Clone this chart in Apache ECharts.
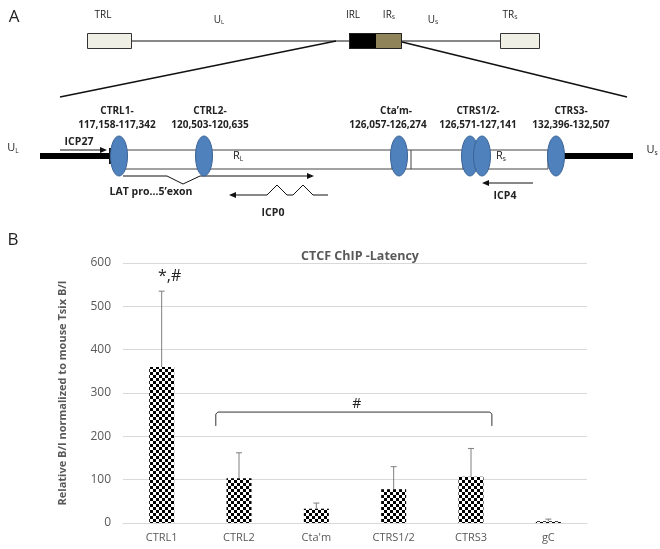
<!DOCTYPE html>
<html><head><meta charset="utf-8">
<script src="https://cdn.jsdelivr.net/npm/echarts@6/dist/echarts.min.js"></script>
<style>html,body{margin:0;padding:0;background:#fff}#c{width:660px;height:549px}</style>
</head><body><div id="c"></div>
<script>
// ---- data ----
const categories = ['CTRL1', 'CTRL2', "Cta'm", 'CTRS1/2', 'CTRS3', 'gC'];
const meanValues = [360, 103, 33, 78, 107, 4];
const errorTops = [535, 162, 46, 130, 172, 9];
const yTicks = [0, 100, 200, 300, 400, 500, 600];
const starLabel = { category: 'CTRL1', value: 568, text: '*,#' };
const bracket = { from: 'CTRL2', to: 'CTRS3', level: 256, drop: 224, text: '#', textValue: 275 };
const siteNames = ['CTRL1-', 'CTRL2-', 'Cta\u2019m-', 'CTRS1/2-', 'CTRS3-'];
const siteRanges = ['117,158-117,342', '120,503-120,635', '126,057-126,274', '126,571-127,141', '132,396-132,507'];

// ---- checker pattern ----
const pc = document.createElement('canvas');
pc.width = 6; pc.height = 6;
const g = pc.getContext('2d');
g.fillStyle = '#ffffff'; g.fillRect(0, 0, 6, 6);
g.fillStyle = '#000000'; g.fillRect(0, 0, 3, 3); g.fillRect(3, 3, 3, 3);

const FONT = '"Open Sans", "Noto Sans", sans-serif';
const GRAY = '#595959';

// ---- schematic (panel A) ----
const els = [];
function txt(x, y, t, size, weight, align) {
  els.push({ type: 'text', x: x, y: y, style: { text: t, fontSize: size, fontWeight: weight || 'normal', fontFamily: FONT, fill: '#222', align: align || 'center', verticalAlign: 'middle' } });
}
function richTxt(x, y, main, sub, size) {
  els.push({ type: 'text', x: x, y: y, style: { text: '{m|' + main + '}{s|' + sub + '}', fontFamily: FONT, fill: '#222', align: 'center', verticalAlign: 'middle',
    rich: { m: { fontSize: size, fontFamily: FONT, fill: '#222' }, s: { fontSize: size * 0.6, fontFamily: FONT, fill: '#222', padding: [size * 0.5, 0, 0, 0] } } } });
}
function line(pts, w, color) {
  els.push({ type: 'polyline', shape: { points: pts }, style: { stroke: color || '#111', lineWidth: w || 1, fill: null } });
}
function rect(x, y, w, h, fill, stroke) {
  els.push({ type: 'rect', shape: { x: x, y: y, width: w, height: h }, style: { fill: fill, stroke: stroke || null, lineWidth: 1 } });
}
function head(x, y, dir) {
  const d = dir > 0 ? 1 : -1;
  els.push({ type: 'polygon', shape: { points: [[x, y], [x - d * 7, y - 3], [x - d * 7, y + 3]] }, style: { fill: '#111' } });
}
function ellipse(cx, cy) {
  els.push({ type: 'ellipse', shape: { cx: cx, cy: cy, rx: 8.5, ry: 20 }, style: { fill: '#4f81bd', stroke: '#3a6496', lineWidth: 1 }, z: 10 });
}
txt(14, 17, 'A', 17, 'normal');
txt(13, 240, 'B', 17, 'normal');
// genome overview
line([[132, 41], [349, 41]], 1);
line([[402, 41], [500, 41]], 1);
rect(87.5, 33.5, 44, 15, '#efefe6', '#333');
rect(500.5, 33.5, 39, 15, '#efefe6', '#333');
rect(349, 33, 27, 16, '#000', null);
rect(376, 33, 26, 16, '#8f8459', null);
els.push({ type: 'rect', shape: { x: 349.5, y: 33.5, width: 52, height: 15 }, style: { fill: null, stroke: '#222', lineWidth: 1 } });
txt(103, 15, 'TRL', 10);
richTxt(219, 20, 'U', 'L', 10);
txt(353, 15, 'IRL', 10);
richTxt(389, 15, 'IR', 'S', 10);
richTxt(433, 20, 'U', 'S', 10);
richTxt(510, 15, 'TR', 'S', 10);
line([[336, 41], [60, 97]], 1.5);
line([[402, 42], [627, 97]], 1.5);
// expanded region
rect(40, 153, 70, 6, '#000', null);
line([[110, 148], [110, 164]], 2);
line([[116, 150], [548, 150]], 1, '#444');
line([[116, 169], [548, 169]], 1, '#444');
line([[392, 150], [392, 169]], 1, '#444');
line([[411, 150], [411, 169]], 1, '#444');
line([[463, 150], [463, 169]], 1, '#444');
line([[548, 150], [548, 169]], 1, '#444');
rect(556, 153, 77, 6, '#000', null);
const siteX = [117, 210, 388, 478, 571];
ellipse(119, 156); ellipse(204, 156); ellipse(399, 156); ellipse(470, 156); ellipse(482, 156); ellipse(556, 156);
for (let i = 0; i < siteNames.length; i++) {
  txt(siteX[i] + (i === 2 ? 8 : 0), 111, siteNames[i], 10, 'bold');
  txt(siteX[i], 125, siteRanges[i], 10, 'bold');
}
richTxt(13, 148, 'U', 'L', 11);
richTxt(652, 150, 'U', 's', 11);
richTxt(238, 156, 'R', 'L', 11);
richTxt(501, 156, 'R', 's', 11);
txt(79, 142, 'ICP27', 10.5, 'bold');
line([[60, 150], [104, 150]], 1); head(107, 150, 1);
line([[123, 176], [167, 176], [183, 184], [200, 176], [311, 176]], 1); head(314, 176, 1);
txt(151, 192, 'LAT pro\u20265\u2019exon', 10.5, 'bold');
line([[233, 195], [267, 195], [277, 185], [287, 195], [293, 195], [303, 185], [313, 195], [328, 195]], 1); head(229, 195, -1);
txt(273, 213, 'ICP0', 10.5, 'bold');
line([[486, 183], [533, 183]], 1); head(482, 183, -1);
txt(505, 196, 'ICP4', 10.5, 'bold');

// ---- chart (panel B) ----
const chart = echarts.init(document.getElementById('c'), null, { renderer: 'canvas' });
const catIdx = c => categories.indexOf(c);
chart.setOption({
  animation: false,
  title: { text: 'CTCF ChIP -Latency', left: 355, top: 245, textAlign: 'center', textStyle: { fontFamily: FONT, fontSize: 12.5, fontWeight: 'bold', color: GRAY } },
  grid: { left: 123, right: 73, top: 263, bottom: 26 },
  xAxis: { type: 'category', data: categories, axisTick: { show: false }, axisLine: { lineStyle: { color: '#d9d9d9' } },
    axisLabel: { color: GRAY, fontFamily: FONT, fontSize: 11, margin: 9 } },
  yAxis: { type: 'value', min: yTicks[0], max: yTicks[yTicks.length - 1], interval: yTicks[1] - yTicks[0],
    name: 'Relative B/I normalized to mouse Tsix B/I', nameLocation: 'middle', nameGap: 55,
    nameTextStyle: { fontFamily: FONT, fontSize: 11, fontWeight: 'bold', color: GRAY },
    axisLabel: { color: GRAY, fontFamily: FONT, fontSize: 12, margin: 12 },
    splitLine: { lineStyle: { color: '#d9d9d9' } }, axisLine: { show: false }, axisTick: { show: false } },
  series: [
    { type: 'bar', data: meanValues, barWidth: 25, itemStyle: { color: { image: pc, repeat: 'repeat' } }, z: 2 },
    { type: 'custom', z: 3,
      data: categories.map((c, i) => [i, meanValues[i], errorTops[i]]),
      renderItem: (p, api) => {
        const a = api.coord([api.value(0), api.value(1)]);
        const b = api.coord([api.value(0), api.value(2)]);
        const s = { stroke: '#7f7f7f', lineWidth: 1 };
        return { type: 'group', children: [
          { type: 'line', shape: { x1: a[0], y1: a[1], x2: b[0], y2: b[1] }, style: s },
          { type: 'line', shape: { x1: b[0] - 3, y1: b[1], x2: b[0] + 3, y2: b[1] }, style: s } ] };
      } },
    { type: 'custom', z: 4,
      data: [[catIdx(bracket.from), catIdx(bracket.to), bracket.level, bracket.drop, bracket.textValue]],
      renderItem: (p, api) => {
        const band = api.size([1, 0])[0];
        const l = api.coord([api.value(0), api.value(2)]);
        const r = api.coord([api.value(1), api.value(2)]);
        const dl = api.coord([api.value(0), api.value(3)]);
        const tv = api.coord([api.value(0), api.value(4)]);
        const x1 = l[0] - band * 0.3, x2 = r[0] + band * 0.27;
        return { type: 'group', children: [
          { type: 'polyline', shape: { points: [[x1, dl[1]], [x1, l[1] + 2], [x1 + 2, l[1]], [x2 - 2, l[1]], [x2, l[1] + 2], [x2, dl[1]]] }, style: { stroke: '#333', lineWidth: 1, fill: null } },
          { type: 'text', x: (x1 + x2) / 2 + 3, y: tv[1], style: { text: bracket.text, fontFamily: FONT, fontSize: 14, fill: '#222', align: 'center', verticalAlign: 'middle' } } ] };
      } },
    { type: 'custom', z: 4,
      data: [[catIdx(starLabel.category), starLabel.value]],
      renderItem: (p, api) => {
        const c = api.coord([api.value(0), api.value(1)]);
        return { type: 'text', x: c[0] + 8, y: c[1], style: { text: starLabel.text, fontFamily: FONT, fontSize: 16, fill: '#222', align: 'center', verticalAlign: 'middle' } };
      } }
  ],
  graphic: els
});
</script></body></html>
